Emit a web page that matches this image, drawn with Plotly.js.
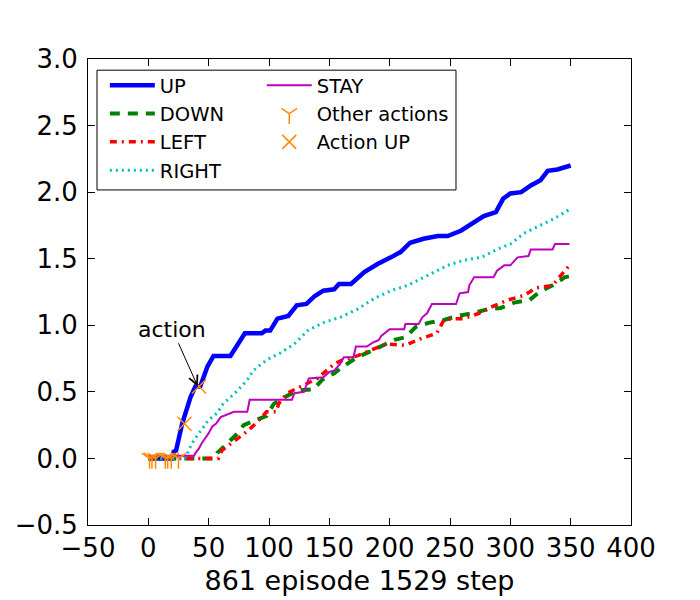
<!DOCTYPE html>
<html>
<head>
<meta charset="utf-8">
<script src="https://cdn.plot.ly/plotly-3.0.1.min.js"></script>
<style>html,body{margin:0;padding:0;background:#fff;}#chart{width:700px;height:600px;}</style>
</head>
<body>
<div id="chart"></div>
<script>
// ---- data ----
var upX    = [0,20,21,23,28,35,39,43,49,54,68,80,94,97,101,107,116,123,131,138,145,154,158,168,179,190,201,209,217,228,240,248,259,267,278,288,294,300,309,317,325,331,339,350];
var upY    = [0,0,0.05,0.06,0.26,0.46,0.54,0.54,0.69,0.77,0.77,0.94,0.94,0.96,0.96,1.05,1.07,1.15,1.16,1.22,1.26,1.27,1.31,1.31,1.40,1.46,1.51,1.55,1.62,1.65,1.67,1.67,1.71,1.76,1.82,1.85,1.95,1.99,2.00,2.05,2.09,2.16,2.17,2.20];

var downX  = [0,55,57,64,72,79,89,98,104,115,124,137,144,154,163,173,183,192,204,213,222,233,245,256,269,281,292,303,316,324,335,345,350];
var downY  = [0,0,0.04,0.10,0.17,0.25,0.29,0.32,0.41,0.47,0.51,0.52,0.59,0.64,0.70,0.76,0.80,0.84,0.89,0.91,0.99,1.02,1.04,1.07,1.09,1.12,1.13,1.17,1.19,1.25,1.30,1.36,1.37];

var leftX  = [0,58,61,70,80,90,98,106,108,115,129,140,154,161,173,184,197,213,226,239,245,253,261,274,285,298,310,316,321,335,343,348];
var leftY  = [0,0,0.06,0.12,0.19,0.27,0.35,0.35,0.41,0.49,0.55,0.60,0.71,0.74,0.77,0.81,0.86,0.85,0.90,0.94,1.04,1.05,1.05,1.09,1.14,1.19,1.22,1.25,1.28,1.30,1.39,1.44];

var rightX = [0,30,33,36,42,50,57,62,74,82,87,98,109,118,121,132,145,159,173,187,201,215,228,240,248,262,276,289,300,311,325,336,349];
var rightY = [0,0,0.05,0.11,0.19,0.29,0.34,0.41,0.51,0.59,0.66,0.74,0.79,0.84,0.86,0.96,1.02,1.06,1.12,1.20,1.26,1.30,1.36,1.41,1.45,1.49,1.51,1.57,1.61,1.69,1.75,1.80,1.87];

var stayX  = [0,38,39,42,44,50,53,56,60,68,71,82,84,119,121,129,133,145,150,154,159,162,170,172,181,186,191,193,200,212,213,224,227,231,235,255,258,265,266,270,286,289,295,300,306,315,317,335,337,349];
var stayY  = [0.02,0.02,0.04,0.075,0.11,0.19,0.24,0.26,0.31,0.34,0.35,0.35,0.44,0.44,0.49,0.50,0.60,0.61,0.65,0.66,0.71,0.76,0.76,0.84,0.84,0.87,0.89,0.92,0.97,0.97,1.01,1.01,1.06,1.09,1.16,1.16,1.24,1.25,1.30,1.36,1.36,1.41,1.45,1.45,1.51,1.52,1.57,1.57,1.61,1.61];

var otherX = [1,3,6,14,16,19,25];
var otherY = [0,0,0,0,0,0,0];

var actionUpX = [30,42];
var actionUpY = [0.26,0.54];

var xTickVals = [-50,0,50,100,150,200,250,300,350,400];
var yTickVals = [-0.5,0,0.5,1,1.5,2,2.5,3];
var xTitle = '861 episode 1529 step';
var noteText = 'action';
var notePoint = [41, 0.54];
var noteTextPos = [19.8, 0.97];

var FONT = 'DejaVu Sans, Liberation Sans, sans-serif';

var traces = [
  {x: upX, y: upY, name: 'UP', mode: 'lines', line: {color: '#0000ff', width: 4.5}, legend: 'legend', legendgroup: 'g1'},
  {x: downX, y: downY, name: 'DOWN', mode: 'lines', line: {color: '#008000', width: 4, dash: '10px,8px'}, legend: 'legend', legendgroup: 'g2'},
  {x: leftX, y: leftY, name: 'LEFT', mode: 'lines', line: {color: '#ff0000', width: 3.5, dash: '7px,5px,2px,5px'}, legend: 'legend', legendgroup: 'g3'},
  {x: rightX, y: rightY, name: 'RIGHT', mode: 'lines', line: {color: '#00bfbf', width: 3, dash: '2px,4px'}, legend: 'legend', legendgroup: 'g4'},
  {x: stayX, y: stayY, name: 'STAY', mode: 'lines', line: {color: '#bf00bf', width: 2}, legend: 'legend2', legendgroup: 'h1'},
  {x: otherX, y: otherY, name: 'Other actions', mode: 'markers', marker: {symbol: 'y-down', size: 13, color: '#ff8c00', line: {color: '#ff8c00', width: 1.5}}, legend: 'legend2', legendgroup: 'h2'},
  {x: actionUpX, y: actionUpY, name: 'Action UP', mode: 'markers', marker: {symbol: 'x-thin', size: 14, color: '#ff8c00', line: {color: '#ff8c00', width: 1.5}}, legend: 'legend2', legendgroup: 'h3'}
];

var axisCommon = {
  showline: true, linecolor: '#000', linewidth: 1, mirror: 'ticks',
  ticks: 'inside', ticklen: 7, tickwidth: 1, tickcolor: '#000',
  showgrid: false, zeroline: false,
  tickfont: {family: FONT, size: 26, color: '#000'}
};

var legendCommon = {
  bgcolor: 'rgba(0,0,0,0)', borderwidth: 0,
  font: {family: FONT, size: 19.5, color: '#000'},
  itemwidth: 45, tracegroupgap: 2,
  xanchor: 'left', yanchor: 'top', orientation: 'v', traceorder: 'normal'
};

var layout = {
  width: 700, height: 600,
  margin: {l: 88, r: 69, t: 59, b: 75},
  paper_bgcolor: '#fff', plot_bgcolor: '#fff',
  font: {family: FONT, color: '#000'},
  showlegend: true,
  xaxis: Object.assign({}, axisCommon, {
    range: [-50, 400], tickvals: xTickVals,
    title: {text: xTitle, font: {family: FONT, size: 27, color: '#000'}, standoff: 8}
  }),
  yaxis: Object.assign({}, axisCommon, {
    range: [-0.5, 3.0], tickvals: yTickVals, tickformat: '.1f', ticklabelstandoff: 4
  }),
  legend: Object.assign({}, legendCommon, {x: 0.031, y: 0.985}),
  legend2: Object.assign({}, legendCommon, {x: 0.320, y: 0.985}),
  shapes: [{
    type: 'rect', xref: 'paper', yref: 'paper',
    x0: 0.0166, x1: 0.6777, y0: 0.719, y1: 0.976,
    line: {color: '#000', width: 1}, fillcolor: '#fff', layer: 'below'
  }],
  annotations: [{
    x: notePoint[0], y: notePoint[1], xref: 'x', yref: 'y',
    ax: noteTextPos[0], ay: noteTextPos[1], axref: 'x', ayref: 'y',
    text: noteText, showarrow: true, arrowhead: 5, arrowsize: 1.8, arrowwidth: 1, arrowcolor: '#000',
    standoff: 0, startstandoff: 0,
    font: {family: FONT, size: 22, color: '#000'}
  }]
};

Plotly.newPlot('chart', traces, layout, {displayModeBar: false, staticPlot: true});
</script>
</body>
</html>
